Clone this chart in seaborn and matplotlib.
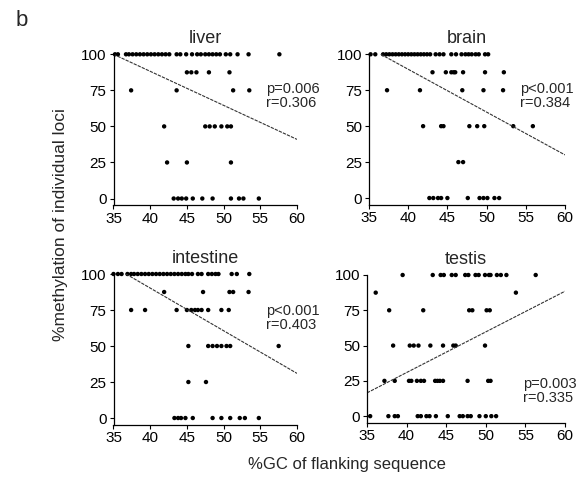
import matplotlib
matplotlib.use("Agg")
import matplotlib.pyplot as plt
import seaborn as sns
import pandas as pd

# %GC of flanking sequence for each locus, grouped by its % methylation level
liver_gc = {
    100: [35.2, 35.6, 36.7, 37.1, 37.6, 38.1, 38.6, 39.1, 39.6, 40.1, 40.6, 41.1,
          41.6, 42.1, 42.6, 43.6, 44.1, 44.9, 45.7, 46.4, 46.9, 47.5, 48.0, 48.5,
          49.0, 49.5, 50.3, 50.9, 51.9, 53.4, 57.6],
    87.5: [45.0, 45.6, 46.3, 48.0, 50.8],
    75: [37.4, 43.6, 51.3, 53.5],
    50: [41.9, 47.5, 48.1, 48.8, 49.7, 50.5, 51.0],
    25: [42.3, 45.0, 51.0],
    0: [43.2, 43.8, 44.3, 44.9, 45.8, 47.1, 48.5, 51.0, 52.1, 52.7, 54.8],
}
brain_gc = {
    100: [35.2, 35.8, 36.8, 37.2, 37.6, 38.0, 38.4, 38.8, 39.2, 39.6, 40.0, 40.4,
          40.8, 41.2, 41.6, 42.0, 42.4, 42.8, 43.5, 44.0, 44.5, 45.5, 46.1, 46.8,
          47.3, 47.7, 48.1, 48.6, 49.0, 49.8, 50.2],
    87.5: [43.1, 44.8, 45.5, 45.8, 46.0, 47.0, 49.8, 52.2],
    75: [37.3, 41.5, 46.9, 49.6, 52.1],
    50: [41.9, 44.2, 44.5, 47.8, 48.8, 49.7, 53.4, 55.9],
    25: [46.4, 47.0],
    0: [42.7, 43.2, 43.8, 44.2, 45.0, 47.6, 49.1, 49.6, 50.1, 51.0, 51.6],
}
intestine_gc = {
    100: [35.0, 35.6, 36.1, 36.9, 37.4, 37.8, 38.3, 38.8, 39.3, 39.8, 40.3, 40.8,
          41.3, 41.8, 42.3, 42.8, 43.3, 43.8, 44.3, 44.8, 45.2, 45.7, 46.5, 47.0,
          47.9, 48.4, 48.9, 49.3, 51.1, 51.8, 53.5],
    87.5: [41.9, 47.2, 50.8, 51.3, 53.4],
    75: [37.4, 39.3, 43.6, 45.0, 45.6, 46.1, 46.5, 47.0, 47.9, 49.7, 50.7],
    50: [45.2, 47.9, 48.5, 49.1, 49.7, 50.4, 50.9, 57.5],
    25: [45.2, 47.6],
    0: [43.3, 43.8, 44.2, 44.8, 45.8, 48.5, 49.7, 50.9, 52.2, 52.9, 54.8],
}
testis_gc = {
    100: [39.5, 43.3, 44.3, 44.7, 45.7, 46.2, 47.4, 47.8, 48.7, 49.1, 49.9, 50.4,
          50.6, 51.4, 51.9, 52.6, 56.3],
    87.5: [36.1, 53.8],
    75: [37.8, 42.1, 47.9, 48.3, 50.1, 50.5],
    50: [38.3, 40.4, 40.9, 41.5, 43.0, 44.6, 45.9, 46.2, 49.9],
    25: [37.2, 38.5, 40.3, 40.6, 41.3, 41.8, 42.2, 43.6, 43.9, 44.2, 44.6, 47.7,
         50.3, 50.6],
    0: [35.4, 37.7, 38.5, 38.9, 41.4, 41.8, 42.5, 42.9, 43.7, 45.2, 46.7, 47.1,
        47.7, 48.1, 49.2, 50.0, 50.7, 51.3],
}

tissues = ["liver", "brain", "intestine", "testis"]
gc_tables = [liver_gc, brain_gc, intestine_gc, testis_gc]

# Regression line end points (x0, y0, x1, y1)
fit_liver = (35.0, 100.0, 60.0, 41.0)
fit_brain = (36.5, 100.0, 60.0, 30.0)
fit_intestine = (36.7, 100.0, 60.0, 31.0)
fit_testis = (35.0, 16.5, 60.0, 88.5)
fits = [fit_liver, fit_brain, fit_intestine, fit_testis]

p_labels = ["p=0.006", "p<0.001", "p<0.001", "p=0.003"]
r_labels = ["r=0.306", "r=0.384", "r=0.403", "r=0.335"]
stat_pos = [(55.8, 71), (54.3, 71), (55.8, 69.3), (54.7, 17.7)]

x_ticks = [35, 40, 45, 50, 55, 60]
y_ticks = [0, 25, 50, 75, 100]

rows = []
for tissue, table in zip(tissues, gc_tables):
    for level, xs in table.items():
        for x in xs:
            rows.append({"tissue": tissue, "gc": x, "meth": level})
df = pd.DataFrame(rows)

sns.set_theme(style="ticks")
plt.rcParams["font.family"] = ["Liberation Sans", "DejaVu Sans"]

W, H = 577, 480
fig = plt.figure(figsize=(W / 100, H / 100), dpi=100)

# panel boxes in pixels: left, right, top (y=100), bottom (x-axis)
boxes = [
    (113.5, 297.0, 54.3, 205.0),
    (369.0, 565.0, 54.3, 204.5),
    (113.5, 297.0, 274.0, 424.5),
    (367.0, 565.0, 275.0, 422.5),
]

for tissue, box, fit, p, r, sp in zip(tissues, boxes, fits, p_labels, r_labels, stat_pos):
    l, rr, t, b = box
    ax = fig.add_axes([l / W, 1 - b / H, (rr - l) / W, (b - t) / H])
    sub = df[df["tissue"] == tissue]
    sns.scatterplot(data=sub, x="gc", y="meth", ax=ax, color="black", s=10,
                    marker="o", edgecolor="none", clip_on=False, legend=False)
    ax.plot([fit[0], fit[2]], [fit[1], fit[3]], color="#333333", lw=0.8,
            linestyle=(0, (3, 1)))
    ax.set_xlim(35, 60)
    ax.set_ylim(-4.5, 100)
    ax.set_xticks(x_ticks)
    ax.set_yticks(y_ticks)
    ax.set_xlabel("")
    ax.set_ylabel("")
    ax.set_title(tissue, fontsize=13, pad=8)
    ax.tick_params(axis="both", labelsize=11, length=3, width=0.8, pad=2,
                   color="black", labelcolor="black")
    for side in ["top", "right"]:
        ax.spines[side].set_visible(False)
    for side in ["left", "bottom"]:
        ax.spines[side].set_color("black")
        ax.spines[side].set_linewidth(0.9)
    ax.text(sp[0], sp[1], p + "\n" + r, fontsize=10.5, va="center", ha="left",
            linespacing=1.0, clip_on=False)

fig.text(60 / W, 1 - 225 / H, "%methylation of individual loci", rotation=90,
         ha="center", va="center", fontsize=12.5)
fig.text(347 / W, 1 - 465 / H, "%GC of flanking sequence", ha="center",
         va="center", fontsize=12)
fig.text(16 / W, 1 - 20 / H, "b", ha="left", va="center", fontsize=16)

fig.savefig("out.png", dpi=100, facecolor="white")
